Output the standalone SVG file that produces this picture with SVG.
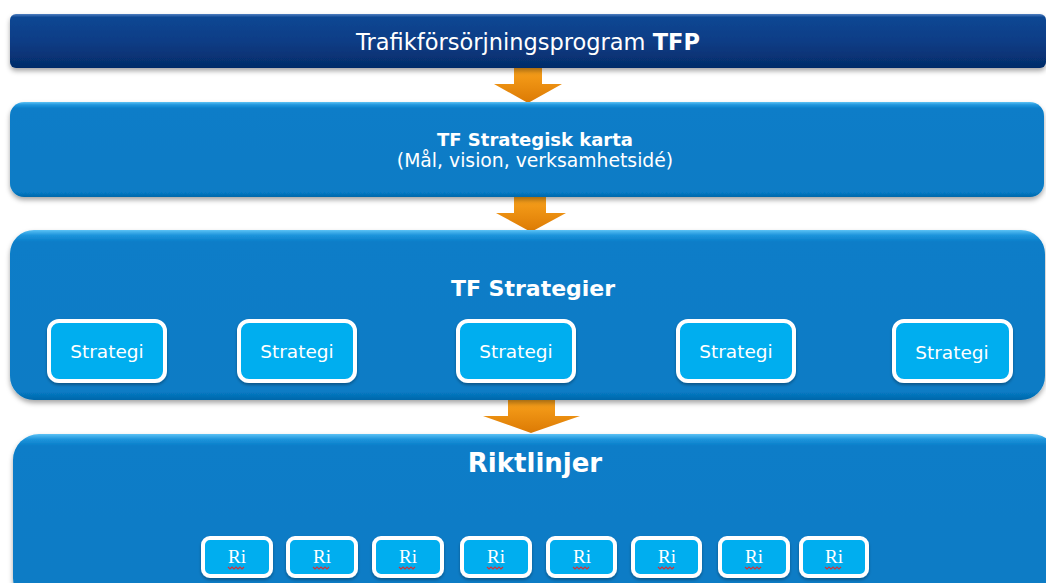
<svg xmlns="http://www.w3.org/2000/svg" width="1046" height="583" viewBox="0 0 1046 583">
<defs>
<linearGradient id="gNavy" x1="0" y1="0" x2="0" y2="1">
<stop offset="0" stop-color="#4f7fc0"/>
<stop offset="0.06" stop-color="#0d4793"/>
<stop offset="0.5" stop-color="#0a3d86"/>
<stop offset="1" stop-color="#052c69"/>
</linearGradient>
<linearGradient id="gBlue" x1="0" y1="0" x2="0" y2="1">
<stop offset="0" stop-color="#5cc2f5"/>
<stop offset="0.03" stop-color="#1e95dc"/>
<stop offset="0.07" stop-color="#077dc8"/>
<stop offset="0.95" stop-color="#077bc5"/>
<stop offset="1" stop-color="#0567aa"/>
</linearGradient>
<linearGradient id="gOrange" x1="0" y1="0" x2="0" y2="1">
<stop offset="0" stop-color="#f9a21c"/>
<stop offset="1" stop-color="#dc7a04"/>
</linearGradient>
<filter id="shadow" x="-5%" y="-10%" width="110%" height="130%">
<feDropShadow dx="0" dy="3" stdDeviation="2.5" flood-color="#000" flood-opacity="0.35"/>
</filter>
<filter id="sshadow" x="-10%" y="-10%" width="120%" height="130%">
<feDropShadow dx="0" dy="2" stdDeviation="1.5" flood-color="#000" flood-opacity="0.3"/>
</filter>
</defs>
<style>
.t{fill:#fff;font-family:"DejaVu Sans",Verdana,sans-serif;text-anchor:middle}
.tb{font-weight:bold}
.sb{fill:#00aeef;stroke:#fff;stroke-width:4}
.st{font-size:18.5px}
.ri{fill:#fff;font-family:"Liberation Serif","DejaVu Serif",serif;font-size:19px;text-anchor:middle}
.sq{fill:none;stroke:#d0343a;stroke-width:1.2}
.arrow{fill:url(#gOrange)}
</style>
<rect width="1046" height="583" fill="#fff"/>
<g id="connectors">
<polygon class="arrow" points="514,68 542,68 542,84 562,84 528,103 494,84 514,84"/>
<polygon class="arrow" points="514,197 546,197 546,213 566,213 531,232 496,213 514,213"/>
<polygon class="arrow" points="508,400 555,400 555,416 580,416 531,433 483,416 508,416"/>
</g>
<g id="tfp">
<rect x="10" y="14" width="1036" height="54" rx="6" fill="url(#gNavy)" filter="url(#shadow)"/>
<text class="t" x="528" y="50" font-size="22.5">Trafikförsörjningsprogram <tspan class="tb">TFP</tspan></text>
</g>
<g id="karta">
<rect x="10" y="102" width="1034" height="95" rx="14" fill="url(#gBlue)" filter="url(#shadow)"/>
<text class="t tb" x="535" y="146" font-size="18">TF Strategisk karta</text>
<text class="t" x="535" y="167" font-size="18.8">(Mål, vision, verksamhetsidé)</text>
</g>
<g id="strategier">
<rect x="10" y="230" width="1035" height="170" rx="24" fill="url(#gBlue)" filter="url(#shadow)"/>
<text class="t tb" x="533" y="296" font-size="22">TF Strategier</text>
</g>
<g id="strategi1"><rect class="sb" x="49" y="321" width="116" height="60" rx="10" filter="url(#sshadow)"/><text class="t st" x="107" y="358">Strategi</text></g>
<g id="strategi2"><rect class="sb" x="239" y="321" width="116" height="60" rx="10" filter="url(#sshadow)"/><text class="t st" x="297" y="358">Strategi</text></g>
<g id="strategi3"><rect class="sb" x="458" y="321" width="116" height="60" rx="10" filter="url(#sshadow)"/><text class="t st" x="516" y="358">Strategi</text></g>
<g id="strategi4"><rect class="sb" x="678" y="321" width="116" height="60" rx="10" filter="url(#sshadow)"/><text class="t st" x="736" y="358">Strategi</text></g>
<g id="strategi5"><rect class="sb" x="894" y="321" width="117" height="60" rx="10" filter="url(#sshadow)"/><text class="t st" x="952" y="359">Strategi</text></g>
<g id="riktlinjer">
<rect x="13" y="434" width="1045" height="170" rx="26" fill="url(#gBlue)" filter="url(#shadow)"/>
<text class="t tb" x="535" y="472" font-size="26">Riktlinjer</text>
</g>
<g id="ri1"><rect class="sb" x="203" y="538" width="68" height="38" rx="7" filter="url(#sshadow)"/><text class="ri" x="237" y="563">Ri</text><path class="sq" d="M228,567 l2,2 l2,-2 l2,2 l2,-2 l2,2 l2,-2 l2,2 l2,-2"/></g>
<g id="ri2"><rect class="sb" x="288" y="538" width="68" height="38" rx="7" filter="url(#sshadow)"/><text class="ri" x="322" y="563">Ri</text><path class="sq" d="M313,567 l2,2 l2,-2 l2,2 l2,-2 l2,2 l2,-2 l2,2 l2,-2"/></g>
<g id="ri3"><rect class="sb" x="374" y="538" width="68" height="38" rx="7" filter="url(#sshadow)"/><text class="ri" x="408" y="563">Ri</text><path class="sq" d="M399,567 l2,2 l2,-2 l2,2 l2,-2 l2,2 l2,-2 l2,2 l2,-2"/></g>
<g id="ri4"><rect class="sb" x="462" y="538" width="68" height="38" rx="7" filter="url(#sshadow)"/><text class="ri" x="496" y="563">Ri</text><path class="sq" d="M487,567 l2,2 l2,-2 l2,2 l2,-2 l2,2 l2,-2 l2,2 l2,-2"/></g>
<g id="ri5"><rect class="sb" x="548" y="538" width="67" height="38" rx="7" filter="url(#sshadow)"/><text class="ri" x="582" y="563">Ri</text><path class="sq" d="M573,567 l2,2 l2,-2 l2,2 l2,-2 l2,2 l2,-2 l2,2 l2,-2"/></g>
<g id="ri6"><rect class="sb" x="633" y="538" width="67" height="38" rx="7" filter="url(#sshadow)"/><text class="ri" x="667" y="563">Ri</text><path class="sq" d="M658,567 l2,2 l2,-2 l2,2 l2,-2 l2,2 l2,-2 l2,2 l2,-2"/></g>
<g id="ri7"><rect class="sb" x="720" y="538" width="68" height="38" rx="7" filter="url(#sshadow)"/><text class="ri" x="754" y="563">Ri</text><path class="sq" d="M745,567 l2,2 l2,-2 l2,2 l2,-2 l2,2 l2,-2 l2,2 l2,-2"/></g>
<g id="ri8"><rect class="sb" x="801" y="538" width="66" height="38" rx="7" filter="url(#sshadow)"/><text class="ri" x="834" y="563">Ri</text><path class="sq" d="M825,567 l2,2 l2,-2 l2,2 l2,-2 l2,2 l2,-2 l2,2 l2,-2"/></g>
</svg>
